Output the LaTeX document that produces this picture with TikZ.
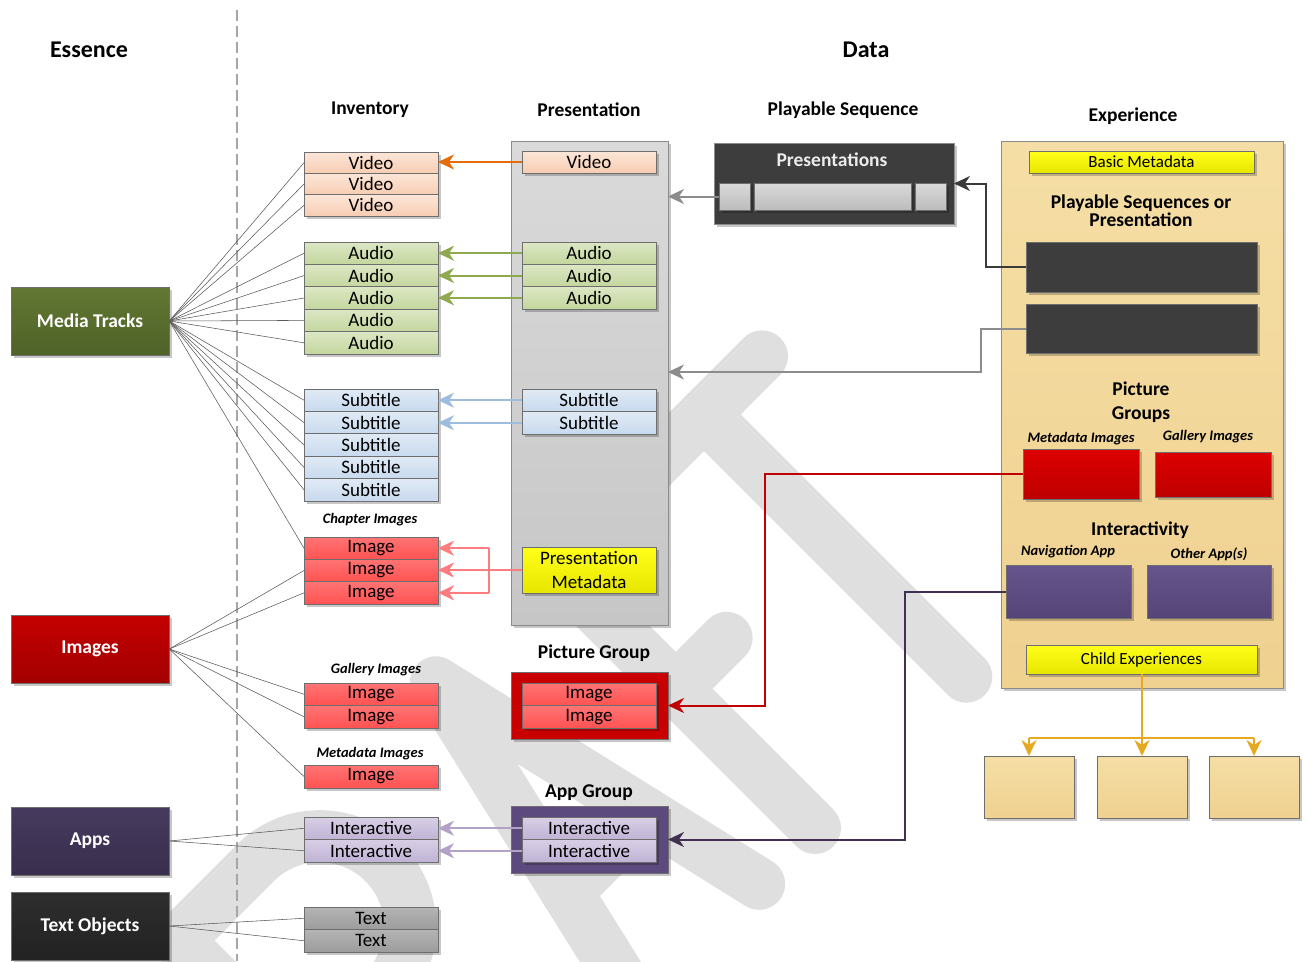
\documentclass[tikz,border=0pt]{standalone}
\usepackage{fontspec}
\setmainfont{Carlito}
\usetikzlibrary{arrows.meta,shadows}
\definecolor{bordc}{HTML}{6E6E6E}
\definecolor{vidT}{HTML}{FCE6D8}\definecolor{vidB}{HTML}{F7CDB3}
\definecolor{audT}{HTML}{DCE7C4}\definecolor{audB}{HTML}{C4D69E}
\definecolor{subT}{HTML}{E0EAF5}\definecolor{subB}{HTML}{C8DAEE}
\definecolor{imgT}{HTML}{FF7474}\definecolor{imgB}{HTML}{FF5252}
\definecolor{intT}{HTML}{D8CFE5}\definecolor{intB}{HTML}{C0B3D5}
\definecolor{txtT}{HTML}{B4B4B4}\definecolor{txtB}{HTML}{9C9C9C}
\definecolor{pcolT}{HTML}{DADADA}\definecolor{pcolB}{HTML}{C6C6C6}
\definecolor{yelT}{HTML}{FFFF1A}\definecolor{yelB}{HTML}{E6E600}
\definecolor{mtT}{HTML}{627833}\definecolor{mtB}{HTML}{4F6228}
\definecolor{imT}{HTML}{C40000}\definecolor{imB}{HTML}{A20000}
\definecolor{apT}{HTML}{463A5E}\definecolor{apB}{HTML}{3A2E4E}
\definecolor{toT}{HTML}{2E2E2E}\definecolor{toB}{HTML}{222222}
\definecolor{darkbox}{HTML}{3D3D3D}
\definecolor{expT}{HTML}{F5DEA5}\definecolor{expB}{HTML}{EFD190}
\definecolor{redT}{HTML}{DD0000}\definecolor{redB}{HTML}{BE0000}
\definecolor{purT}{HTML}{66558C}\definecolor{purB}{HTML}{554477}
\definecolor{pgred}{HTML}{C80000}
\definecolor{agpur}{HTML}{5C4A7E}
\definecolor{arrOr}{HTML}{E46C0A}
\definecolor{arrGr}{HTML}{8FAA4E}
\definecolor{arrBl}{HTML}{9DBDDE}
\definecolor{arrPk}{HTML}{FF7C80}
\definecolor{arrGy}{HTML}{8C8C8C}
\definecolor{arrDk}{HTML}{3A3A3A}
\definecolor{arrRd}{HTML}{C00000}
\definecolor{arrPu}{HTML}{403152}
\definecolor{arrLp}{HTML}{B3A2C7}
\definecolor{arrGo}{HTML}{E6AA22}
\definecolor{fanc}{HTML}{5A5A5A}
\definecolor{dashc}{HTML}{A6A6A6}
\definecolor{wmark}{HTML}{DFDFDF}
\begin{document}
\begin{tikzpicture}[x=1pt,y=-1pt,
  shad/.style={drop shadow={shadow xshift=3pt,shadow yshift=-3pt,opacity=0.22,fill=black}},
  hdr/.style={font=\fontsize{24}{26}\selectfont\bfseries,inner sep=0pt},
  subhdr/.style={font=\fontsize{19.5}{21}\selectfont\bfseries,inner sep=0pt,align=center},
  smalllab/.style={font=\fontsize{14.5}{16}\selectfont\bfseries\itshape,inner sep=0pt},
  rowbox/.style={draw=bordc,line width=0.8pt,minimum width=134pt,inner sep=0pt,outer sep=0pt,font=\fontsize{19}{21}\selectfont,shad},
  vid/.style={top color=vidT,bottom color=vidB},
  aud/.style={top color=audT,bottom color=audB},
  sbt/.style={top color=subT,bottom color=subB},
  img/.style={top color=imgT,bottom color=imgB},
  inter/.style={top color=intT,bottom color=intB},
  txt/.style={top color=txtT,bottom color=txtB},
  yel/.style={top color=yelT,bottom color=yelB},
  essbox/.style={draw=bordc,line width=0.6pt,minimum width=158pt,minimum height=68pt,inner sep=0pt,font=\fontsize{19.5}{21}\selectfont\bfseries,text=white,shad},
  container/.style={draw=bordc!80,line width=0.8pt,inner sep=0pt,outer sep=0pt,shad},
  fan/.style={draw=fanc,line width=0.55pt},
  arr/.style={line width=2pt,-{Stealth[length=16pt,width=15pt,inset=5pt]}},
  wm/.style={draw=wmark,line width=52pt,line cap=round,line join=round},
]
\useasboundingbox (0,0) rectangle (1305,961);
\fill[white] (0,0) rectangle (1305,961);

% DRAFT watermark (partly visible)
\begin{scope}[shift={(815,828)},x={(0.7071pt,0.7071pt)},y={(-0.7071pt,0.7071pt)}]
  % R
  \draw[wm] (-530,0) -- (-530,371) -- (-420,371) arc[start angle=90,end angle=-90,radius=90.5] -- (-530,190);
  \draw[wm] (-450,190) -- (-350,0);
  % A
  \draw[wm] (-251,0) -- (-165,371) -- (-79,0);
  \draw[wm] (-221,130) -- (-109,130);
  % F
  \draw[wm] (0,0) -- (0,371) -- (105,371);
  \draw[wm] (0,197) -- (72,197);
  % T
  \draw[wm] (214,0) -- (214,371);
  \draw[wm] (132,371) -- (296,371);
\end{scope}

% headers
\node[hdr] (hEss) at (89,50) {Essence};
\node[hdr] (hData) at (866,50) {Data};
\node[subhdr] (hInv) at (370,110) {Inventory};
\node[subhdr] (hPres) at (589,110) {Presentation};
\node[subhdr] (hPlay) at (843,110) {Playable Sequence};
\node[subhdr] (hExp) at (1133,116) {Experience};

% divider
\coordinate (dtop) at (237,10);
\coordinate (dbot) at (237,961);
\draw[dashc,line width=1.5pt,dash pattern=on 11pt off 5pt] (dtop) -- (dbot);

% essence boxes
\node[essbox,top color=mtT,bottom color=mtB] (mt) at (90,321) {Media Tracks};
\node[essbox,top color=imT,bottom color=imB] (im) at (90,649) {Images};
\node[essbox,top color=apT,bottom color=apB] (ap) at (90,841) {Apps};
\node[essbox,top color=toT,bottom color=toB] (to) at (90,926) {Text Objects};

% presentation column
\node[container,top color=pcolT,bottom color=pcolB,minimum width=157pt,minimum height=484pt] (pcol) at (589.5,383) {};

% picture group and app group containers
\node[subhdr] (lPG) at (594,653) {Picture Group};
\node[container,fill=pgred,draw=bordc,minimum width=157pt,minimum height=67pt] (pg) at (589.5,705.5) {};
\node[subhdr] (lAG) at (589,793) {App Group};
\node[container,fill=agpur,draw=bordc,minimum width=157pt,minimum height=67pt] (ag) at (589.5,839.5) {};

% inventory rows
\node[rowbox,vid,minimum height=21.33pt] (iv1) at (371,162.7) {Video};
\node[rowbox,vid,minimum height=21.33pt] (iv2) at (371,184) {Video};
\node[rowbox,vid,minimum height=21.33pt] (iv3) at (371,205.3) {Video};
\node[rowbox,aud,minimum height=22.4pt] (ia1) at (371,253.2) {Audio};
\node[rowbox,aud,minimum height=22.4pt] (ia2) at (371,275.6) {Audio};
\node[rowbox,aud,minimum height=22.4pt] (ia3) at (371,298) {Audio};
\node[rowbox,aud,minimum height=22.4pt] (ia4) at (371,320.4) {Audio};
\node[rowbox,aud,minimum height=22.4pt] (ia5) at (371,342.8) {Audio};
\node[rowbox,sbt,minimum height=22.4pt] (is1) at (371,400.2) {Subtitle};
\node[rowbox,sbt,minimum height=22.4pt] (is2) at (371,422.6) {Subtitle};
\node[rowbox,sbt,minimum height=22.4pt] (is3) at (371,445) {Subtitle};
\node[rowbox,sbt,minimum height=22.4pt] (is4) at (371,467.4) {Subtitle};
\node[rowbox,sbt,minimum height=22.4pt] (is5) at (371,489.8) {Subtitle};
\node[smalllab] (lCh) at (370,520) {Chapter Images};
\node[rowbox,img,minimum height=22.33pt] (ic1) at (371,548.2) {Image};
\node[rowbox,img,minimum height=22.33pt] (ic2) at (371,570.5) {Image};
\node[rowbox,img,minimum height=22.33pt] (ic3) at (371,592.8) {Image};
\node[smalllab] (lGa) at (376,670) {Gallery Images};
\node[rowbox,img,minimum height=22.5pt] (ig1) at (371,694.25) {Image};
\node[rowbox,img,minimum height=22.5pt] (ig2) at (371,716.75) {Image};
\node[smalllab] (lMe) at (370,754) {Metadata Images};
\node[rowbox,img,minimum height=23pt] (imd) at (371,776.5) {Image};
\node[rowbox,inter,minimum height=22.5pt] (ii1) at (371,828.25) {Interactive};
\node[rowbox,inter,minimum height=22.5pt] (ii2) at (371,850.75) {Interactive};
\node[rowbox,txt,minimum height=22.5pt] (it1) at (371,918.25) {Text};
\node[rowbox,txt,minimum height=22.5pt] (it2) at (371,940.75) {Text};

% presentation rows
\node[rowbox,vid,minimum height=22pt] (pv) at (589,162) {Video};
\node[rowbox,aud,minimum height=22.33pt] (pa1) at (589,253.2) {Audio};
\node[rowbox,aud,minimum height=22.33pt] (pa2) at (589,275.5) {Audio};
\node[rowbox,aud,minimum height=22.33pt] (pa3) at (589,297.8) {Audio};
\node[rowbox,sbt,minimum height=22.5pt] (ps1r) at (589,400.25) {Subtitle};
\node[rowbox,sbt,minimum height=22.5pt] (ps2r) at (589,422.75) {Subtitle};
\node[rowbox,yel,minimum height=46pt,align=center,font=\fontsize{19}{23.5}\selectfont] (pm) at (589,570) {Presentation\\Metadata};
\node[rowbox,img,minimum height=22.5pt] (pgi1) at (589,694.25) {Image};
\node[rowbox,img,minimum height=22.5pt] (pgi2) at (589,716.75) {Image};
\node[rowbox,inter,minimum height=22.5pt] (agi1) at (589,828.25) {Interactive};
\node[rowbox,inter,minimum height=22.5pt] (agi2) at (589,850.75) {Interactive};

% playable sequence
\node[container,fill=darkbox,minimum width=240pt,minimum height=81pt] (pres) at (834,183.5) {};
\node[font=\fontsize{19.5}{21}\selectfont\bfseries,text=white!92!black,inner sep=0pt] (presL) at (832,160) {Presentations};
\node[rowbox,top color=pcolT,bottom color=pcolB!95!black,minimum width=31pt,minimum height=27pt] (sq1) at (734.5,196.5) {};
\node[rowbox,top color=pcolT,bottom color=pcolB!95!black,minimum width=157pt,minimum height=27pt] (sq2) at (832.5,196.5) {};
\node[rowbox,top color=pcolT,bottom color=pcolB!95!black,minimum width=31pt,minimum height=27pt] (sq3) at (930.5,196.5) {};

% experience
\node[container,top color=expT,bottom color=expB,minimum width=282pt,minimum height=547pt] (exp) at (1142,414.5) {};
\node[rowbox,yel,minimum width=225pt,minimum height=22pt,font=\fontsize{17}{19}\selectfont] (bm) at (1141.5,162) {Basic Metadata};
\node[subhdr,font=\fontsize{19.5}{18}\selectfont\bfseries] (lPS) at (1141,211) {Playable Sequences or\\Presentation};
\node[rowbox,fill=darkbox,minimum width=231pt,minimum height=50pt] (ed1) at (1141.5,267) {};
\node[rowbox,fill=darkbox,minimum width=231pt,minimum height=49pt] (ed2) at (1141.5,328.5) {};
\node[subhdr,font=\fontsize{19.5}{24}\selectfont\bfseries] (lPicG) at (1141,402) {Picture\\Groups};
\node[smalllab] (lMI) at (1081,439) {Metadata Images};
\node[smalllab] (lGI) at (1208,437) {Gallery Images};
\node[rowbox,top color=redT,bottom color=redB,minimum width=116pt,minimum height=50pt] (er1) at (1081,474) {};
\node[rowbox,top color=redT,bottom color=redB,minimum width=116pt,minimum height=45pt] (er2) at (1213,474.5) {};
\node[subhdr] (lInt) at (1140,530) {Interactivity};
\node[smalllab] (lNA) at (1068,552) {Navigation App};
\node[smalllab] (lOA) at (1209,554) {Other App(s)};
\node[rowbox,top color=purT,bottom color=purB,minimum width=125pt,minimum height=53pt] (ep1) at (1068.5,591.5) {};
\node[rowbox,top color=purT,bottom color=purB,minimum width=124pt,minimum height=53pt] (ep2) at (1209,591.5) {};
\node[rowbox,yel,minimum width=231pt,minimum height=29pt,font=\fontsize{17}{19}\selectfont] (ce) at (1141.5,659.5) {Child Experiences};

% child experience boxes
\node[rowbox,top color=expT,bottom color=expB,minimum width=90pt,minimum height=62pt] (c1) at (1029,787) {};
\node[rowbox,top color=expT,bottom color=expB,minimum width=90pt,minimum height=62pt] (c2) at (1142,787) {};
\node[rowbox,top color=expT,bottom color=expB,minimum width=90pt,minimum height=62pt] (c3) at (1254,787) {};

% fan lines
\foreach \n in {iv1,iv2,iv3,ia1,ia2,ia3,ia4,ia5,is1,is2,is3,is4,is5,ic1}
  \draw[fan] (mt.east) -- (\n.west);
\foreach \n in {ic2,ic3,ig1,ig2,imd}
  \draw[fan] (im.east) -- (\n.west);
\foreach \n in {ii1,ii2}
  \draw[fan] (ap.east) -- (\n.west);
\foreach \n in {it1,it2}
  \draw[fan] (to.east) -- (\n.west);

% presentation -> inventory arrows
\draw[arr,arrOr] (pv.west) -- (pv.west -| iv1.east);
\draw[arr,arrGr] (pa1.west) -- (pa1.west -| ia1.east);
\draw[arr,arrGr] (pa2.west) -- (pa2.west -| ia2.east);
\draw[arr,arrGr] (pa3.west) -- (pa3.west -| ia3.east);
\draw[arr,arrBl] (ps1r.west) -- (ps1r.west -| is1.east);
\draw[arr,arrBl] (ps2r.west) -- (ps2r.west -| is2.east);
\coordinate (pj) at (489,570);
\draw[arrPk,line width=2pt] (pj |- ic1.east) -- (pj |- ic3.east);
\draw[arr,arrPk] (pm.west) -- (pm.west -| ic2.east);
\draw[arr,arrPk] (pj |- ic1.east) -- (ic1.east);
\draw[arr,arrPk] (pj |- ic3.east) -- (ic3.east);
\draw[arr,arrLp] (agi1.west) -- (agi1.west -| ii1.east);
\draw[arr,arrLp] (agi2.west) -- (agi2.west -| ii2.east);

% playable sequence -> presentation
\draw[arr,arrGy] (sq1.west) -- (sq1.west -| pcol.east);

% experience connectors
\draw[arr,arrDk] (ed1.west) -- ++(-40,0) |- (pres.east);
\draw[arr,arrGy] (ed2.west) -- ++(-45,0) |- ([yshift=11pt]pcol.east);
\draw[arr,arrRd] (er1.west) -- ++(-258,0) |- (pg.east);
\draw[arr,arrPu] (ep1.west) -- ++(-101,0) |- (ag.east);

% child experiences
\draw[arrGo,line width=2pt] (ce.south) -- ++(0,64) coordinate (gj);
\draw[arrGo,line width=2pt] (gj -| c1) -- (gj -| c3);
\draw[arr,arrGo] (gj -| c1) -- (c1.north);
\draw[arr,arrGo] (gj -| c2) -- (c2.north);
\draw[arr,arrGo] (gj -| c3) -- (c3.north);
\end{tikzpicture}
\end{document}
